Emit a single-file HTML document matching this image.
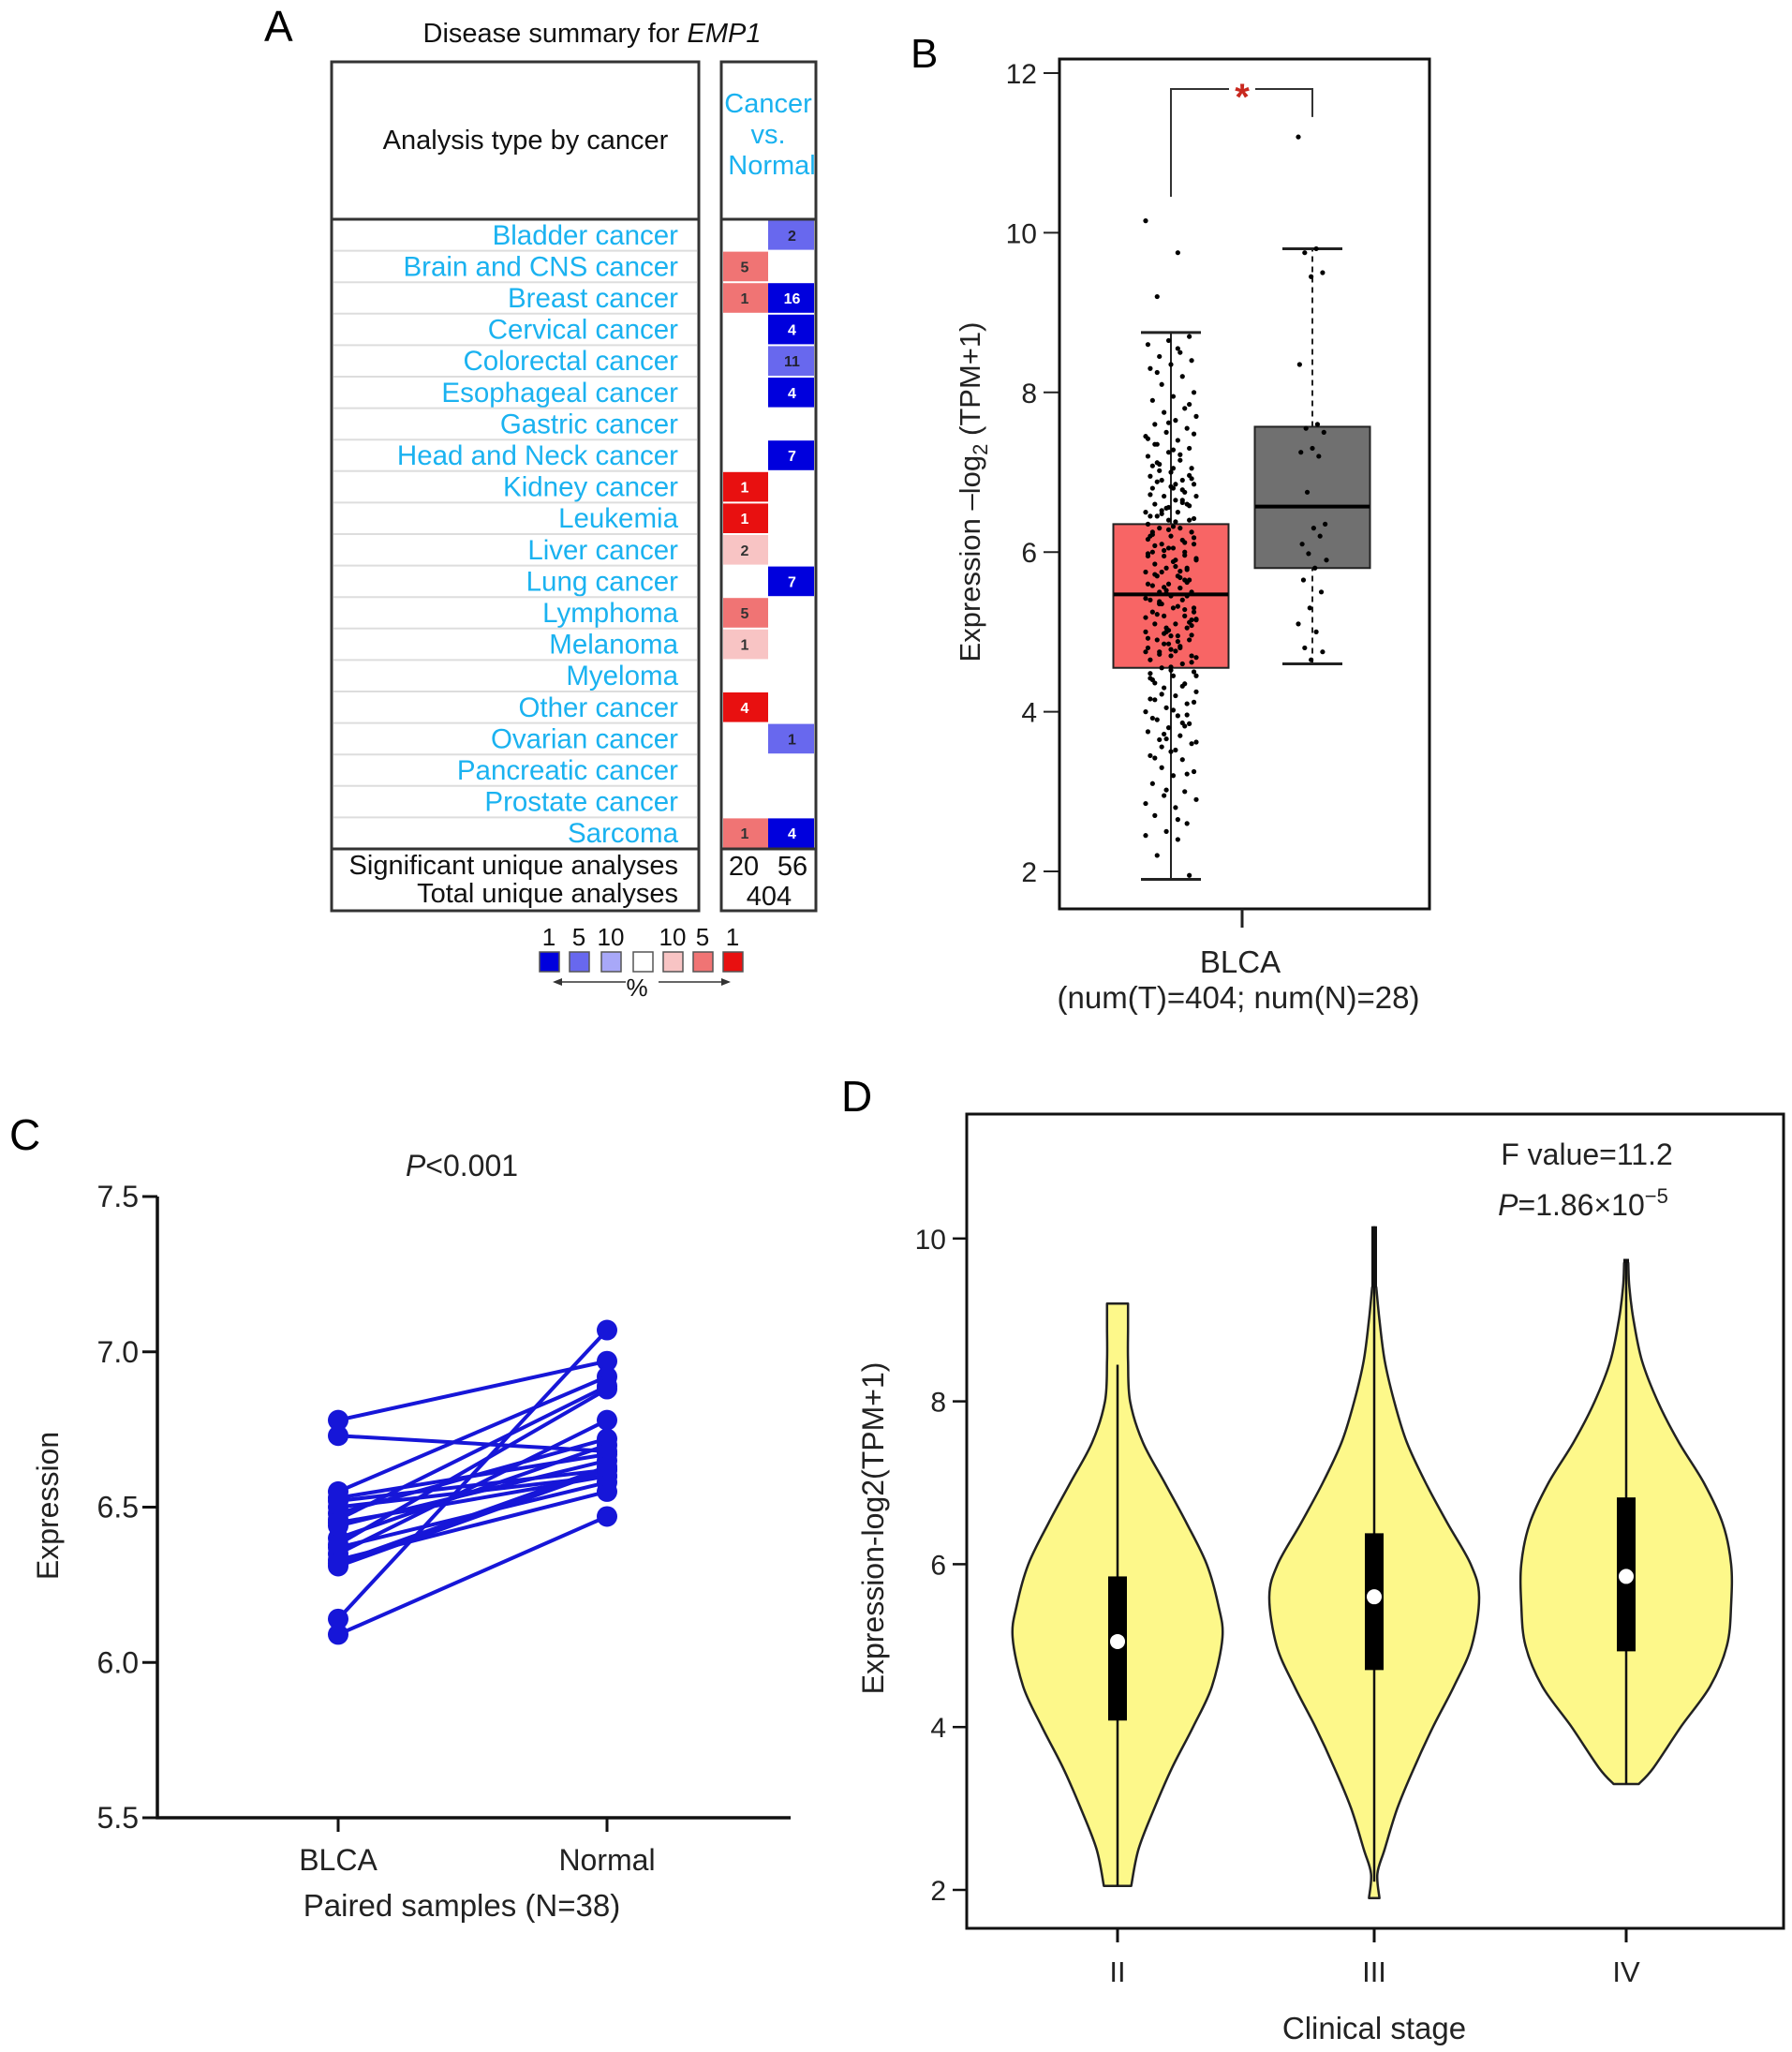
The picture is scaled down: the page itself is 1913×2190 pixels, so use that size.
<!DOCTYPE html>
<html><head><meta charset="utf-8"><style>
html,body{margin:0;padding:0;background:#fff;}
svg{display:block;font-family:"Liberation Sans",Arial,sans-serif;}
</style></head><body>
<svg id="fig" width="1913" height="2190" viewBox="0 0 1913 2190" xmlns="http://www.w3.org/2000/svg">
<g id="pA"></g>
<g id="pB"></g>
<g id="pC"></g>
<g id="pD"></g>
</svg>
<script>
// ---------- Panel A data ----------
const cancerTypes = ["Bladder cancer","Brain and CNS cancer","Breast cancer","Cervical cancer","Colorectal cancer","Esophageal cancer","Gastric cancer","Head and Neck cancer","Kidney cancer","Leukemia","Liver cancer","Lung cancer","Lymphoma","Melanoma","Myeloma","Other cancer","Ovarian cancer","Pancreatic cancer","Prostate cancer","Sarcoma"];
const upCounts   = [0,5,1,0,0,0,0,0,1,1,2,0,5,1,0,4,0,0,0,1];
const upLevel    = [0,2,2,0,0,0,0,0,3,3,1,0,2,1,0,3,0,0,0,2];
const downCounts = [2,0,16,4,11,4,0,7,0,0,0,7,0,0,0,0,1,0,0,4];
const downLevel  = [2,0,3,3,2,3,0,3,0,0,0,3,0,0,0,0,2,0,0,3];
const sigCounts = [20,56];
const totalAnalyses = 404;
// ---------- Panel B data ----------
const bTicks = [2,4,6,8,10,12];
const tumorStats = {q1:4.55, med:5.47, q3:6.35, lo:1.9, hi:8.75};
const normalStats = {q1:5.8, med:6.57, q3:7.57, lo:4.6, hi:9.8};
const tumorValues = [10.15,9.75,9.2,8.7,8.65,8.6,8.5,8.45,8.4,8.35,8.3,8.2,8.1,8.0,7.95,7.9,7.8,7.75,7.7,7.65,7.6,7.55,7.5,7.45,7.4,7.35,7.3,7.25,7.2,7.15,7.1,7.05,7.0,6.95,6.9,6.9,6.85,6.8,6.8,6.75,6.7,6.7,6.65,6.6,6.6,6.55,6.5,6.5,6.45,6.4,6.4,6.35,6.3,6.3,6.25,6.2,6.2,6.15,6.1,6.1,6.05,6.0,6.0,5.95,5.9,5.9,5.85,5.8,5.8,5.75,5.7,5.7,5.65,5.6,5.6,5.55,5.5,5.5,5.45,5.4,5.4,5.35,5.3,5.3,5.25,5.2,5.2,5.15,5.1,5.1,5.05,5.0,5.0,4.95,4.9,4.9,4.85,4.8,4.8,4.75,4.7,4.7,4.65,4.6,4.55,4.5,4.45,4.4,4.35,4.3,4.25,4.2,4.15,4.1,4.05,4.0,3.95,3.9,3.85,3.8,3.75,3.7,3.65,3.6,3.5,3.45,3.4,3.3,3.25,3.2,3.1,3.0,2.95,2.9,2.8,2.7,2.6,2.5,2.45,2.4,2.2,1.95,6.05,5.95,5.55,5.35,5.15,4.95,6.45,6.65,5.75,5.25,7.05,6.25,5.65,4.85,4.45,6.85,7.35,5.45,5.05,4.75,
 8.55,8.25,7.85,7.62,7.42,7.22,7.02,6.92,6.82,6.72,6.62,6.52,6.42,6.32,6.22,6.12,6.02,5.92,5.82,5.72,5.62,5.52,5.42,5.32,5.22,5.12,5.02,4.92,4.82,4.72,4.62,4.52,4.42,4.32,4.22,4.12,4.02,3.92,3.82,3.72,3.62,3.52,3.42,3.22,3.02,2.85,2.65,6.88,6.58,6.28,5.98,5.68,5.38,5.08,4.78,4.48,6.78,6.48,6.18,5.88,5.58,5.28,4.98,4.68,6.38,6.08,5.78,5.48,5.18,4.88,7.12,6.96,6.56,6.16,5.76,5.36,4.96,4.56,4.16,3.86,3.56,7.48,7.28,7.08,5.96,5.56,5.16,4.76,4.36,3.96,3.66];
const normalValues = [11.2,9.8,9.75,9.5,9.45,8.35,7.6,7.55,7.5,7.3,7.25,7.2,6.75,6.35,6.3,6.1,6.2,5.98,5.9,5.8,5.65,5.5,5.3,5.1,5.0,4.8,4.75,4.65];
// ---------- Panel C data ----------
const cTicks = [5.5,6.0,6.5,7.0,7.5];
const cCategories = ["BLCA","Normal"];
const blcaValues   = [6.78,6.73,6.55,6.52,6.50,6.48,6.46,6.44,6.40,6.37,6.35,6.33,6.31,6.14,6.09,6.53,6.45,6.38,6.32];
const normalPaired = [6.97,6.68,6.92,6.62,6.60,6.72,6.89,6.65,6.70,6.58,6.78,6.55,6.62,7.07,6.47,6.67,6.60,6.88,6.63];
// ---------- Panel D data ----------
const dTicks = [2,4,6,8,10];
const stages = ["II","III","IV"];
const violinY = [
 [2.05,2.5,3.0,3.5,4.0,4.5,5.1,5.5,6.0,6.5,7.0,7.5,8.0,8.5,8.9,9.2],
 [1.9,2.2,2.5,3.0,3.5,4.0,4.5,5.0,5.6,6.0,6.5,7.0,7.5,8.0,8.5,9.0,9.4],
 [3.3,3.5,4.0,4.5,5.0,5.5,6.0,6.5,7.0,7.5,8.0,8.5,9.0,9.4,9.7]
];
const violinW = [
 [0.13,0.2,0.35,0.52,0.72,0.9,1.0,0.96,0.85,0.66,0.45,0.24,0.12,0.1,0.1,0.1],
 [0.05,0.03,0.1,0.22,0.38,0.56,0.76,0.93,1.0,0.92,0.7,0.49,0.31,0.19,0.1,0.05,0.02],
 [0.12,0.26,0.52,0.8,0.96,1.0,1.0,0.92,0.74,0.5,0.3,0.15,0.07,0.03,0.02]
];
const dBoxQ1 = [4.08,4.7,4.93];
const dBoxMed = [5.05,5.6,5.85];
const dBoxQ3 = [5.85,6.38,6.82];
const dWhiskLo = [2.05,2.1,3.3];
const dWhiskHi = [8.45,10.15,9.75];

const NS="http://www.w3.org/2000/svg";
function mk(parent,tag,attrs,text){const e=document.createElementNS(NS,tag);for(const k in attrs)e.setAttribute(k,attrs[k]);if(text!==undefined)e.textContent=text;parent.appendChild(e);return e;}

// ================= PANEL A =================
(function(){
const g=document.getElementById('pA');
let t=mk(g,'text',{x:282,y:44,'font-size':46,fill:'#000'},'A');


t=mk(g,'text',{x:632,y:45,'font-size':29,'text-anchor':'middle',fill:'#111'});


t.innerHTML='Disease summary for <tspan font-style="italic">EMP1</tspan>';
const L0=354,L1=746,R0=770,R1=871,RM=820,Y0=66,YH=234,rowH=33.6,YR=YH+rowH*20,Y1=972;
let r=mk(g,'rect',{x:L0,y:Y0,width:L1-L0,height:Y1-Y0,fill:'none',stroke:'#333','stroke-width':3});


r=mk(g,'rect',{x:R0,y:Y0,width:R1-R0,height:Y1-Y0,fill:'none',stroke:'#333','stroke-width':3});


t=mk(g,'text',{x:561,y:159,'font-size':29,'text-anchor':'middle',fill:'#111'},'Analysis type by cancer');


['Cancer','vs.','Normal'].forEach((s,i)=>{
 const h=mk(g,'text',{x:i==2?824:820,y:120+i*33,'font-size':29,'text-anchor':'middle',fill:'#1ab2f0'},s);
 
 
});
cancerTypes.forEach((name,i)=>{
 const yc=YH+rowH*(i+0.5);
 if(i>0){mk(g,'line',{x1:L0+2,x2:L1-2,y1:YH+rowH*i,y2:YH+rowH*i,stroke:'#ddd','stroke-width':2});}
 const lb=mk(g,'text',{x:724,y:yc+10,'font-size':29.5,'text-anchor':'end',fill:'#1ab2f0'},name);
 
 
 const redC=['#fff','#f8c4c4','#f07474','#e81010'];
 const bluC=['#fff','#a8a8f8','#6868ee','#0000dd'];
 if(upCounts[i]>0){
  const c=mk(g,'rect',{x:R0+2,y:YH+rowH*i+1,width:RM-R0-2,height:rowH-2,fill:redC[upLevel[i]]});
  
  
  const tx=mk(g,'text',{x:(R0+RM)/2,y:yc+6,'font-size':16,'text-anchor':'middle',fill:upLevel[i]==3?'#fff':'#333','font-weight':'bold'},upCounts[i]);
  
  
 }
 if(downCounts[i]>0){
  const c=mk(g,'rect',{x:RM,y:YH+rowH*i+1,width:R1-RM-2,height:rowH-2,fill:bluC[downLevel[i]]});
  
  
  const tx=mk(g,'text',{x:(RM+R1)/2,y:yc+6,'font-size':16,'text-anchor':'middle',fill:downLevel[i]==3?'#fff':'#223','font-weight':'bold'},downCounts[i]);
  
  
 }
});
mk(g,'line',{x1:L0,x2:L1,y1:YH,y2:YH,stroke:'#333','stroke-width':3});
mk(g,'line',{x1:R0,x2:R1,y1:YH,y2:YH,stroke:'#333','stroke-width':3});
mk(g,'line',{x1:L0,x2:L1,y1:YR,y2:YR,stroke:'#333','stroke-width':3});
mk(g,'line',{x1:R0,x2:R1,y1:YR,y2:YR,stroke:'#333','stroke-width':3});
t=mk(g,'text',{x:724,y:933,'font-size':29,'text-anchor':'end',fill:'#111'},'Significant unique analyses');


t=mk(g,'text',{x:724,y:963,'font-size':29,'text-anchor':'end',fill:'#111'},'Total unique analyses');


t=mk(g,'text',{x:794,y:934,'font-size':29,'text-anchor':'middle',fill:'#111'},sigCounts[0]);


t=mk(g,'text',{x:846,y:934,'font-size':29,'text-anchor':'middle',fill:'#111'},sigCounts[1]);


t=mk(g,'text',{x:821,y:966,'font-size':29,'text-anchor':'middle',fill:'#111'},totalAnalyses);


// legend
const legCols=['#0000dd','#6868ee','#a8a8f8','#fff','#f8c4c4','#f07474','#e81010'];
const legLab=['1','5','10','','10','5','1'];
const legX=[576,608,642,676,708,740,772];
legCols.forEach((c,i)=>{
 const s=mk(g,'rect',{x:legX[i],y:1016,width:21,height:21,fill:c,stroke:'#555','stroke-width':1.5});
 
 
 if(legLab[i]){const lt=mk(g,'text',{x:legX[i]+10,y:1009,'font-size':26,'text-anchor':'middle',fill:'#111'},legLab[i]);
 
 }
});
mk(g,'line',{x1:592,x2:668,y1:1048,y2:1048,stroke:'#333','stroke-width':1.5});
mk(g,'path',{d:'M590 1048 l10 -4 v8 z',fill:'#333'});
mk(g,'line',{x1:703,x2:778,y1:1048,y2:1048,stroke:'#333','stroke-width':1.5});
mk(g,'path',{d:'M780 1048 l-10 -4 v8 z',fill:'#333'});
t=mk(g,'text',{x:680,y:1063,'font-size':26,'text-anchor':'middle',fill:'#111'},'%');


})();

// ================= PANEL B =================
(function(){
const g=document.getElementById('pB');
const X0=1131,X1=1526,PY0=63,PY1=970;
const yB=v=>930-(v-2)*85.2;
let t=mk(g,'text',{x:972,y:72,'font-size':44,fill:'#000'},'B');


bTicks.forEach(v=>{
 mk(g,'line',{x1:X0-17,x2:X0,y1:yB(v),y2:yB(v),stroke:'#222','stroke-width':2});
 const tl=mk(g,'text',{x:X0-24,y:yB(v)+11,'font-size':30,'text-anchor':'end',fill:'#222'},v);
 
 
});
t=mk(g,'text',{x:0,y:0,'font-size':31,'text-anchor':'middle',fill:'#222',transform:'translate(1046,525) rotate(-90)'});


t.innerHTML='Expression –log<tspan font-size="22" dy="8">2</tspan><tspan dy="-8"> (TPM+1)</tspan>';
function box(st,cx,fill,dash,nm){
 const w=123;
 const wl=mk(g,'line',{x1:cx,x2:cx,y1:yB(st.lo),y2:yB(st.hi),stroke:'#222','stroke-width':2,'stroke-dasharray':dash});
 
 
 [st.lo,st.hi].forEach(v=>mk(g,'line',{x1:cx-32,x2:cx+32,y1:yB(v),y2:yB(v),stroke:'#222','stroke-width':3}));
 const b=mk(g,'rect',{x:cx-w/2,y:yB(st.q3),width:w,height:yB(st.q1)-yB(st.q3),fill:fill,stroke:'#222','stroke-width':2});
 
 
}
box(tumorStats,1250,'#f86565','none','tumor');
box(normalStats,1401,'#707070','6,5','normal');
function pts(vals,cx,spread,nm){
 vals.forEach((v,i)=>{
  const j=((i*37%23)/22-0.5)*spread;
  const c=mk(g,'circle',{cx:cx+j,cy:yB(v),r:2.6,fill:'#000'});
  
  
 });
}
pts(tumorValues,1250,54,'tumor');
pts(normalValues,1401,30,'normal');
[tumorStats.med,normalStats.med].forEach((m,i)=>{
 const cx=i?1401:1250;
 const ml=mk(g,'line',{x1:cx-61,x2:cx+61,y1:yB(m),y2:yB(m),stroke:'#000','stroke-width':4});
 
 
});
const br=mk(g,'path',{d:`M1250 ${yB(10.45)} V${yB(11.8)} H1312 M1340 ${yB(11.8)} H1401 V${yB(11.45)}`,fill:'none',stroke:'#333','stroke-width':2});


t=mk(g,'text',{x:1326,y:yB(11.8)+22,'font-size':40,'text-anchor':'middle',fill:'#c8281e','font-weight':'bold'},'*');


const fr=mk(g,'rect',{x:X0,y:PY0,width:X1-X0,height:PY1-PY0,fill:'none',stroke:'#111','stroke-width':3});


mk(g,'line',{x1:1326,x2:1326,y1:PY1,y2:PY1+20,stroke:'#222','stroke-width':3});
t=mk(g,'text',{x:1324,y:1038,'font-size':33,'text-anchor':'middle',fill:'#222'},'BLCA');


t=mk(g,'text',{x:1322,y:1076,'font-size':33,'text-anchor':'middle',fill:'#222'},'(num(T)=404; num(N)=28)');


})();

// ================= PANEL C =================
(function(){
const g=document.getElementById('pC');
const yC=v=>1940-(v-5.5)*331.5;
const xC=i=>[361,648][i];
let t=mk(g,'text',{x:10,y:1227,'font-size':46,fill:'#000'},'C');


t=mk(g,'text',{x:493,y:1255,'font-size':32,'text-anchor':'middle',fill:'#222'});


t.innerHTML='<tspan font-style="italic">P</tspan>&lt;0.001';
const ax=mk(g,'path',{d:'M168 1277 V1940 H844',fill:'none',stroke:'#111','stroke-width':3.5});


cTicks.forEach(v=>{
 mk(g,'line',{x1:152,x2:168,y1:yC(v),y2:yC(v),stroke:'#111','stroke-width':3});
 const tl=mk(g,'text',{x:148,y:yC(v)+11,'font-size':32,'text-anchor':'end',fill:'#222'},v.toFixed(1));
 
 
});
cCategories.forEach((c,i)=>{
 mk(g,'line',{x1:xC(i),x2:xC(i),y1:1940,y2:1955,stroke:'#111','stroke-width':3});
 const tl=mk(g,'text',{x:xC(i),y:1996,'font-size':32,'text-anchor':'middle',fill:'#222'},c);
 
 
});
t=mk(g,'text',{x:493,y:2045,'font-size':33,'text-anchor':'middle',fill:'#222'},'Paired samples (N=38)');


t=mk(g,'text',{x:0,y:0,'font-size':32,'text-anchor':'middle',fill:'#222',transform:'translate(62,1607) rotate(-90)'},'Expression');


blcaValues.forEach((v,i)=>{
 const l=mk(g,'line',{x1:xC(0),y1:yC(v),x2:xC(1),y2:yC(normalPaired[i]),stroke:'#1616d8','stroke-width':4});
 
 
});
blcaValues.forEach((v,i)=>{
 let c=mk(g,'circle',{cx:xC(0),cy:yC(v),r:11,fill:'#1616d8'});
 
 
 c=mk(g,'circle',{cx:xC(1),cy:yC(normalPaired[i]),r:11,fill:'#1616d8'});
 
 
});
})();

// ================= PANEL D =================
(function(){
const g=document.getElementById('pD');
const yD=v=>2017-(v-2)*86.9;
const xD=i=>[1193,1467,1736][i];
const HW=112;
function smooth(P){
 let d='M'+P[0][0].toFixed(1)+' '+P[0][1].toFixed(1);
 for(let k=0;k<P.length-1;k++){
  const p0=P[Math.max(0,k-1)],p1=P[k],p2=P[k+1],p3=P[Math.min(P.length-1,k+2)];
  const c1=[p1[0]+(p2[0]-p0[0])/6,p1[1]+(p2[1]-p0[1])/6];
  const c2=[p2[0]-(p3[0]-p1[0])/6,p2[1]-(p3[1]-p1[1])/6];
  d+=` C${c1[0].toFixed(1)} ${c1[1].toFixed(1)} ${c2[0].toFixed(1)} ${c2[1].toFixed(1)} ${p2[0].toFixed(1)} ${p2[1].toFixed(1)}`;
 }
 return d;
}
let t=mk(g,'text',{x:898,y:1186,'font-size':46,fill:'#000'},'D');


dTicks.forEach(v=>{
 mk(g,'line',{x1:1017,x2:1032,y1:yD(v),y2:yD(v),stroke:'#111','stroke-width':2.5});
 const tl=mk(g,'text',{x:1010,y:yD(v)+11,'font-size':30,'text-anchor':'end',fill:'#222'},v);
 
 
});
stages.forEach((s,i)=>{
 const cx=xD(i);
 const ys=violinY[i],ws=violinW[i];
 const right=ys.map((y,k)=>[cx+ws[k]*HW,yD(y)]);
 const left=ys.map((y,k)=>[cx-ws[k]*HW,yD(y)]).reverse();
 let d=smooth(right)+' L'+left[0][0].toFixed(1)+' '+left[0][1].toFixed(1)+' '+smooth(left).replace(/^M[^C]*/,'')+' Z';
 const v=mk(g,'path',{d:d,fill:'#fdf88a',stroke:'#222','stroke-width':2.5,'stroke-linejoin':'round'});
 
 
 const wl=mk(g,'line',{x1:cx,x2:cx,y1:yD(dWhiskLo[i]),y2:yD(dWhiskHi[i]),stroke:'#111','stroke-width':2.5});
 
 
 const top=ys[ys.length-1];
 if(dWhiskHi[i]>top){mk(g,'line',{x1:cx,x2:cx,y1:yD(top),y2:yD(dWhiskHi[i]),stroke:'#111','stroke-width':6});}
 const b=mk(g,'rect',{x:cx-10,y:yD(dBoxQ3[i]),width:20,height:yD(dBoxQ1[i])-yD(dBoxQ3[i]),fill:'#000'});
 
 
 const m=mk(g,'circle',{cx:cx,cy:yD(dBoxMed[i]),r:8,fill:'#fff'});
 
 
 mk(g,'line',{x1:cx,x2:cx,y1:2058,y2:2073,stroke:'#111','stroke-width':3});
 const tl=mk(g,'text',{x:cx,y:2115,'font-size':31,'text-anchor':'middle',fill:'#222'},s);
 
 
});
const fr=mk(g,'rect',{x:1032,y:1189,width:872,height:869,fill:'none',stroke:'#111','stroke-width':3});


t=mk(g,'text',{x:1694,y:1243,'font-size':32,'text-anchor':'middle',fill:'#222'},'F value=11.2');


t=mk(g,'text',{x:1690,y:1297,'font-size':32,'text-anchor':'middle',fill:'#222'});


t.innerHTML='<tspan font-style="italic">P</tspan>=1.86×10<tspan font-size="22" dy="-13">−5</tspan>';
t=mk(g,'text',{x:1467,y:2176,'font-size':33,'text-anchor':'middle',fill:'#222'},'Clinical stage');


t=mk(g,'text',{x:0,y:0,'font-size':32,'text-anchor':'middle',fill:'#222',transform:'translate(943,1631) rotate(-90)'},'Expression-log2(TPM+1)');


})();
</script>
</body></html>
